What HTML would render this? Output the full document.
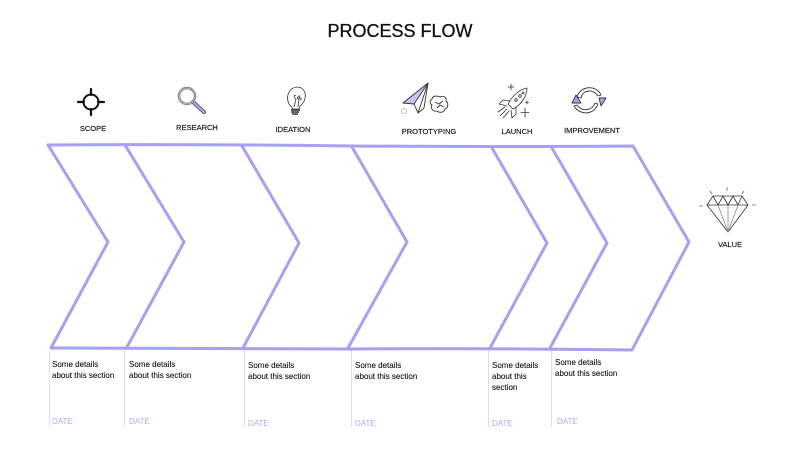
<!DOCTYPE html>
<html>
<head>
<meta charset="utf-8">
<style>
html,body{margin:0;padding:0;background:#fff;}
body{width:800px;height:450px;overflow:hidden;position:relative;font-family:"Liberation Sans",sans-serif;}
svg{position:absolute;left:0;top:0;}
</style>
</head>
<body>
<svg width="800" height="450" viewBox="0 0 800 450" xmlns="http://www.w3.org/2000/svg">
  <!-- Title -->
  <text x="400" y="37" text-anchor="middle" font-family="Liberation Sans, sans-serif" font-size="18" fill="#111" stroke="#111" stroke-width="0.3">PROCESS FLOW</text>

  <!-- Column dividers -->
  <g stroke="#dedede" stroke-width="1">
    <line x1="49.5" y1="351" x2="49.5" y2="427"/>
    <line x1="124.5" y1="350" x2="124.5" y2="427"/>
    <line x1="244.5" y1="350" x2="244.5" y2="427"/>
    <line x1="351.5" y1="350" x2="351.5" y2="427"/>
    <line x1="488.5" y1="350" x2="488.5" y2="427"/>
    <line x1="551.5" y1="350" x2="551.5" y2="427"/>
  </g>

  <!-- Chevron band -->
  <g fill="none" stroke="#a79ff0" stroke-width="3" stroke-linejoin="round" stroke-linecap="round">
    <path d="M48,145 Q200,144 350,146 Q500,147 633,146 L689,242 L632,350 Q480,348 350,349 Q200,348 52,348"/>
    <path d="M48,145 L108,242 L51,348"/>
    <path d="M125,145 L184,242 L127,347"/>
    <path d="M242,146 L299,243 L243,348"/>
    <path d="M352,147 L407,242 L348,348"/>
    <path d="M492,148 L547,243 L490,348"/>
    <path d="M552,148 L607,243 L550,348"/>
  </g>

  <!-- Labels -->
  <g font-family="Liberation Sans, sans-serif" font-size="7.5" fill="#111" stroke="#111" stroke-width="0.15" text-anchor="middle">
    <text x="93" y="131">SCOPE</text>
    <text x="197" y="130">RESEARCH</text>
    <text x="293" y="132">IDEATION</text>
    <text x="429" y="134">PROTOTYPING</text>
    <text x="517" y="134">LAUNCH</text>
    <text x="592" y="133">IMPROVEMENT</text>
    <text x="730" y="247">VALUE</text>
  </g>

  <!-- Body text -->
  <g font-family="Liberation Sans, sans-serif" font-size="8" fill="#111" stroke="#111" stroke-width="0.1">
    <text x="52" y="367">Some details</text>
    <text x="52" y="378">about this section</text>
    <text x="129" y="367">Some details</text>
    <text x="129" y="378">about this section</text>
    <text x="248" y="368">Some details</text>
    <text x="248" y="379">about this section</text>
    <text x="355" y="368">Some details</text>
    <text x="355" y="379">about this section</text>
    <text x="492" y="368">Some details</text>
    <text x="492" y="379">about this</text>
    <text x="492" y="390">section</text>
    <text x="555" y="365">Some details</text>
    <text x="555" y="376">about this section</text>
  </g>
  <g font-family="Liberation Sans, sans-serif" font-size="8" fill="#b2a9f2">
    <text x="52" y="424">DATE</text>
    <text x="129" y="424">DATE</text>
    <text x="248" y="426">DATE</text>
    <text x="355" y="426">DATE</text>
    <text x="492" y="426">DATE</text>
    <text x="557" y="424">DATE</text>
  </g>

  <!-- SCOPE icon -->
  <g stroke="#111" fill="none">
    <circle cx="91" cy="102" r="7.5" stroke-width="2"/>
    <g stroke-width="2.2" stroke-linecap="round">
      <line x1="91" y1="89" x2="91" y2="95"/>
      <line x1="91" y1="109" x2="91" y2="115"/>
      <line x1="78" y1="102" x2="84" y2="102"/>
      <line x1="98" y1="102" x2="104" y2="102"/>
    </g>
  </g>

  <!-- RESEARCH icon -->
  <g fill="none">
    <line x1="193" y1="102" x2="204" y2="112" stroke="#555" stroke-width="4" stroke-linecap="round"/>
    <line x1="193" y1="102" x2="204" y2="112" stroke="#a79ff0" stroke-width="2.4" stroke-linecap="round"/>
    <circle cx="187" cy="96" r="8" stroke="#777" stroke-width="2.4"/>
    <circle cx="187" cy="96" r="8" stroke="#ccc" stroke-width="0.8"/>
  </g>

  <!-- IDEATION icon -->
  <g fill="none" stroke="#333" stroke-width="0.8">
    <path d="M292,107 C285,103 286,88 297,87 C307,87 308,100 300,106 L299,109 L292,109 Z"/>
    <path d="M294,107 L296,99 M296,99 C293,97 294,94 296,96 M297,99 C298,95 301,95 299,98 L298,107"/>
    <path d="M298,99 C300,97 303,98 300,100"/>
    <path d="M291,110 L300,110 M291,112 L299,112 M292,114 L298,114" stroke-width="1.4"/>
  </g>

  <!-- PROTOTYPING icon -->
  <g stroke="#333" stroke-width="0.9" fill="none" stroke-linejoin="round">
    <path d="M403,103 L428,83 L414,104 Z" fill="#c9c3f5"/>
    <path d="M428,83 L418,113 L414,104"/>
    <path d="M428,83 L424,108 L418,113"/>
    <circle cx="404" cy="111" r="2.5" stroke="#bbb"/>
    <path d="M432,99 C433,95 438,96 440,97 C444,95 447,98 446,101 C449,103 448,108 445,109 C444,113 439,113 437,111 C433,112 430,108 432,105 C429,103 430,100 432,99 Z"/>
    <path d="M435,102 L439,104 L443,101 M437,108 L440,105 L444,107"/>
  </g>

  <!-- LAUNCH icon -->
  <g stroke="#333" stroke-width="0.8" fill="none" stroke-linejoin="round" stroke-linecap="round">
    <path d="M527,88 C520,89 512,96 508,104 L513,109 C521,105 527,96 527,88 Z"/>
    <circle cx="520" cy="96" r="1.3"/>
    <circle cx="516" cy="100" r="1.3"/>
    <circle cx="523" cy="93" r="1"/>
    <path d="M510,101 L503,100 L499,104 L507,106"/>
    <path d="M516,107 L516,114 L512,118 L511,110"/>
    <path d="M507,109 L500,116 M509,111 L503,118 M505,107 L498,112"/>
    <path d="M511,84 L511,90 M508,87 L514,87"/>
    <path d="M525,108 L525,117 M521,112.5 L529,112.5"/>
    <path d="M527,101 L527,104 M525.5,102.5 L528.5,102.5"/>
  </g>

  <!-- IMPROVEMENT icon -->
  <g stroke="#333" stroke-width="0.9" fill="none" stroke-linejoin="round">
    <path d="M577,97 C580,86 596,84 601,95 L598,96 C594,89 583,89 581,98 Z"/>
    <path d="M598,104 C594,115 580,116 574,106 L577,105 C582,112 592,111 595,103 Z"/>
    <path d="M599,98 L606,98 L601,106 Z" fill="#a79ff0"/>
    <path d="M572,103 L576,95 L581,103 Z" fill="#a79ff0"/>
  </g>

  <!-- VALUE diamond -->
  <g stroke="#333" stroke-width="0.8" fill="none" stroke-linejoin="round">
    <path d="M713,196 L742,196 L748,205 L728,232 L707,205 Z"/>
    <path d="M707,205 L748,205"/>
    <path d="M713,196 L718,205 L723,196 L728,205 L733,196 L738,205 L742,196"/>
    <path d="M718,205 L728,232 L738,205 M728,205 L728,232" stroke="#888"/>
    <path d="M710,191 L712,194 M727,187 L727,191 M744,191 L742,194 M699,206 L703,206 M752,205 L756,205" stroke="#666"/>
  </g>
</svg>
</body>
</html>
